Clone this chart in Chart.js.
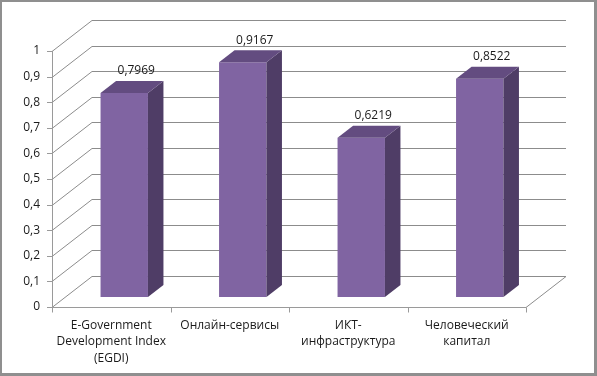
<!DOCTYPE html>
<html>
<head>
<meta charset="utf-8">
<script src="https://cdn.jsdelivr.net/npm/chart.js@4.4.1/dist/chart.umd.min.js"></script>
<style>
  html, body { margin: 0; padding: 0; background: #fff; }
  canvas { display: block; }
</style>
</head>
<body>
<canvas id="chart" width="597" height="376"></canvas>
<script>
// data
const categories = [
  ['E-Government', 'Development Index', '(EGDI)'],
  'Онлайн-сервисы',
  ['ИКТ-', 'инфраструктура'],
  ['Человеческий', 'капитал']
];
const values = [0.7969, 0.9167, 0.6219, 0.8522];
const yMin = 0;
const yMax = 1;
const yStep = 0.1;

// fake 3d look
const wallDx = 40, wallDy = -31;   // back wall offset
const barDx = 13, barDy = -10;     // bar front plane offset
const sideDx = 15.5, sideDy = -12; // bar depth

const fmt = v => String(Math.round(v * 10000) / 10000).replace('.', ',');

const threeD = {
  id: 'threeD',
  beforeDatasetsDraw(chart) {
    const { ctx, chartArea: a, scales: { x, y } } = chart;
    ctx.save();
    ctx.lineWidth = 1;
    // back wall gridlines
    ctx.strokeStyle = '#8c8c8c';
    y.ticks.forEach(t => {
      const py = Math.round(y.getPixelForValue(t.value)) + 0.5;
      ctx.beginPath();
      ctx.moveTo(a.left, py);
      ctx.lineTo(a.left + wallDx, py + wallDy);
      ctx.lineTo(a.right + wallDx, py + wallDy);
      ctx.stroke();
    });
    // floor
    const by = Math.round(a.bottom) + 0.5;
    ctx.beginPath();
    ctx.moveTo(a.right, by);
    ctx.lineTo(a.right + wallDx, by + wallDy);
    ctx.stroke();
    // axes
    ctx.strokeStyle = '#9a9a9a';
    ctx.beginPath();
    ctx.moveTo(a.left + 0.5, a.top);
    ctx.lineTo(a.left + 0.5, by);
    ctx.lineTo(a.right, by);
    ctx.stroke();
    y.ticks.forEach(t => {
      const py = Math.round(y.getPixelForValue(t.value)) + 0.5;
      ctx.beginPath();
      ctx.moveTo(a.left - 5, py);
      ctx.lineTo(a.left, py);
      ctx.stroke();
    });
    const cw = (a.right - a.left) / categories.length;
    for (let i = 0; i <= categories.length; i++) {
      const px = Math.round(a.left + i * cw) + 0.5;
      ctx.beginPath();
      ctx.moveTo(px, by);
      ctx.lineTo(px, by + 5);
      ctx.stroke();
    }
    ctx.restore();

    ctx.save();
    ctx.translate(barDx, barDy);
  },
  afterDatasetsDraw(chart) {
    const { ctx } = chart;
    const bars = chart.getDatasetMeta(0).data;
    bars.forEach(b => {
      const l = b.x - b.width / 2, r = b.x + b.width / 2;
      ctx.fillStyle = '#4f3d66';
      ctx.beginPath();
      ctx.moveTo(r, b.y);
      ctx.lineTo(r + sideDx, b.y + sideDy);
      ctx.lineTo(r + sideDx, b.base + sideDy);
      ctx.lineTo(r, b.base);
      ctx.closePath();
      ctx.fill();
      ctx.fillStyle = '#634c80';
      ctx.beginPath();
      ctx.moveTo(l, b.y);
      ctx.lineTo(l + sideDx, b.y + sideDy);
      ctx.lineTo(r + sideDx, b.y + sideDy);
      ctx.lineTo(r, b.y);
      ctx.closePath();
      ctx.fill();
    });
    ctx.restore();

    // value labels
    ctx.save();
    ctx.font = '12px "Open Sans", sans-serif';
    ctx.fillStyle = '#1a1a1a';
    ctx.textAlign = 'center';
    ctx.textBaseline = 'middle';
    bars.forEach((b, i) => {
      ctx.fillText(fmt(values[i]), b.x + barDx + 12, b.y + barDy - 22);
    });
    ctx.restore();
  },
  afterDraw(chart) {
    const { ctx, width, height } = chart;
    ctx.save();
    ctx.fillStyle = '#8f8f8f';
    ctx.fillRect(0, 0, width, 2);
    ctx.fillRect(0, 0, 2, height);
    ctx.fillRect(width - 3, 0, 3, height);
    ctx.fillRect(0, height - 3, width, 3);
    ctx.restore();
  }
};

new Chart(document.getElementById('chart'), {
  type: 'bar',
  data: {
    labels: categories,
    datasets: [{
      data: values,
      backgroundColor: '#8064a2',
      borderWidth: 0,
      barPercentage: 0.4,
      categoryPercentage: 1
    }]
  },
  options: {
    responsive: false,
    animation: false,
    devicePixelRatio: 1,
    layout: { padding: { left: 0, top: 51, right: 71, bottom: 0 } },
    plugins: {
      legend: { display: false },
      tooltip: { enabled: false }
    },
    scales: {
      x: {
        grid: { display: false, drawTicks: false },
        border: { display: false },
        ticks: {
          padding: 10,
          color: '#1a1a1a',
          maxRotation: 0,
          autoSkip: false,
          font: { family: '"Open Sans", sans-serif', size: 12, lineHeight: 1.38 }
        },
        afterFit(s) { s.height = 69; }
      },
      y: {
        min: yMin,
        max: yMax,
        grid: { display: false, drawTicks: false },
        border: { display: false },
        ticks: {
          stepSize: yStep,
          padding: 12,
          color: '#1a1a1a',
          font: { family: '"Open Sans", sans-serif', size: 12 },
          callback: v => String(Math.round(v * 10) / 10).replace('.', ',')
        },
        afterFit(s) { s.width = 52; }
      }
    }
  },
  plugins: [threeD]
});
</script>
</body>
</html>
